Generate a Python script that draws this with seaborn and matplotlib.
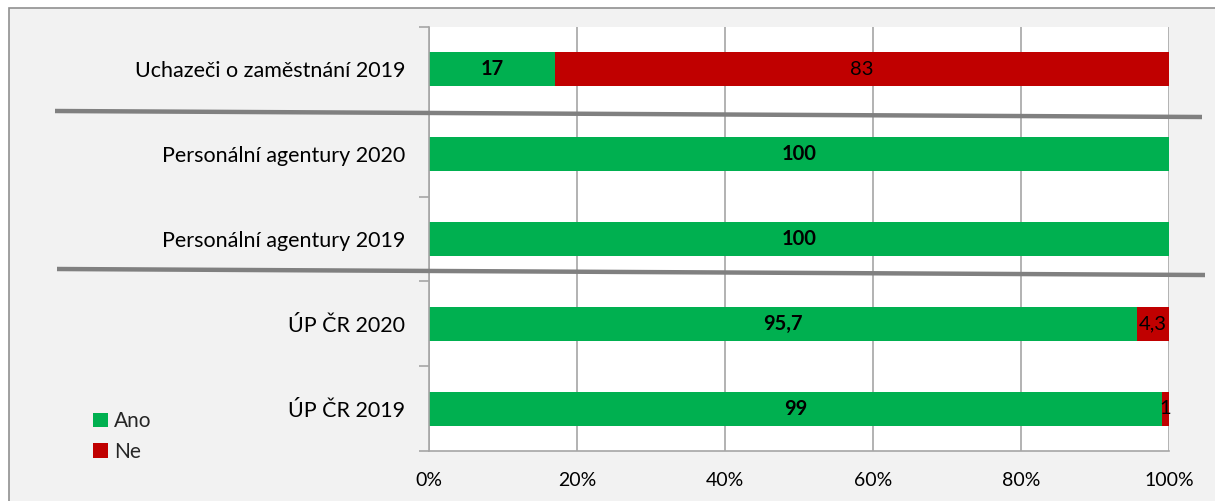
import matplotlib
matplotlib.use("Agg")
import matplotlib.pyplot as plt
import seaborn as sns
import pandas as pd
from matplotlib.patches import Patch, Rectangle
from matplotlib.lines import Line2D
from matplotlib.ticker import FixedLocator, PercentFormatter

categories = ["Uchazeči o zaměstnání 2019", "Personální agentury 2020",
              "Personální agentury 2019", "ÚP ČR 2020", "ÚP ČR 2019"]
ano = [17, 100, 100, 95.7, 99]
ne = [83, 0, 0, 4.3, 1]
ano_labels = ["17", "100", "100", "95,7", "99"]
ne_labels = ["83", "", "", "4,3", "1"]
series_names = ["Ano", "Ne"]

GREEN = "#00B050"
RED = "#C00000"
GRID = "#a6a6a6"

sns.set_theme(style="white")
plt.rcParams["font.family"] = ["Lato", "DejaVu Sans"]

df = pd.DataFrame({"cat": categories, "ano": ano, "ne": ne})
df["total"] = df["ano"] + df["ne"]

W, H = 1215, 501
fig = plt.figure(figsize=(W / 100, H / 100), dpi=100)
fig.patch.set_facecolor("white")

# outer chart area frame (extends past right/bottom edges)
fig.add_artist(Rectangle((9 / W, -0.05), 1.1, 1 - 8 / H + 0.05,
                         transform=fig.transFigure, facecolor="#f2f2f2",
                         edgecolor="#909090", linewidth=1.2, zorder=0))

ax = fig.add_axes([429 / W, 1 - 451 / H, (1169 - 429) / W, (451 - 27) / H])
ax.set_facecolor("white")

sns.barplot(data=df, x="total", y="cat", color=RED, width=0.4, ax=ax,
            saturation=1, orient="h", linewidth=0)
sns.barplot(data=df, x="ano", y="cat", color=GREEN, width=0.4, ax=ax,
            saturation=1, orient="h", linewidth=0)

ax.set_xlim(0, 100)
ax.set_ylim(len(categories) - 0.5, -0.5)
ax.set_xlabel("")
ax.set_ylabel("")
ax.xaxis.set_major_locator(FixedLocator([0, 20, 40, 60, 80, 100]))
ax.xaxis.set_major_formatter(PercentFormatter(decimals=0))
ax.grid(axis="x", color=GRID, linewidth=1.2)
ax.set_axisbelow(True)
for s in ["top", "right"]:
    ax.spines[s].set_visible(False)
for s in ["left", "bottom"]:
    ax.spines[s].set_color(GRID)
    ax.spines[s].set_linewidth(1.2)

ax.tick_params(axis="x", which="major", length=7, color=GRID, width=1.2,
               labelsize=14, labelcolor="black", pad=8)
ax.tick_params(axis="y", which="major", length=0, labelsize=15.5,
               labelcolor="black", pad=17)
ax.yaxis.set_minor_locator(FixedLocator([i - 0.5 for i in range(len(categories) + 1)]))
ax.tick_params(axis="y", which="minor", length=7, color=GRID, width=1.2, left=True)

for i in range(len(categories)):
    if ano_labels[i]:
        ax.text(ano[i] / 2, i, ano_labels[i], ha="center", va="center",
                fontsize=14.5, fontweight="bold", color="black")
    if ne_labels[i]:
        ax.text(ano[i] + ne[i] / 2, i, ne_labels[i], ha="center", va="center",
                fontsize=14.5, color="black")

# separator lines (drawn shapes)
for (x0, y0, x1, y1) in [(55, 111, 1202, 117), (57, 269, 1205, 275)]:
    fig.add_artist(Line2D([x0 / W, x1 / W], [1 - y0 / H, 1 - y1 / H],
                          color="#808080", linewidth=3.2, solid_capstyle="butt"))

handles = [Patch(facecolor=GREEN, edgecolor="none"), Patch(facecolor=RED, edgecolor="none")]
fig.legend(handles, series_names, loc="upper left",
           bbox_to_anchor=(85 / W, 1 - 403 / H), frameon=False,
           handlelength=0.7, handleheight=0.7, handletextpad=0.3,
           labelspacing=0.5, fontsize=15, borderaxespad=0)

fig.savefig("out.png", dpi=100, facecolor=fig.get_facecolor())
